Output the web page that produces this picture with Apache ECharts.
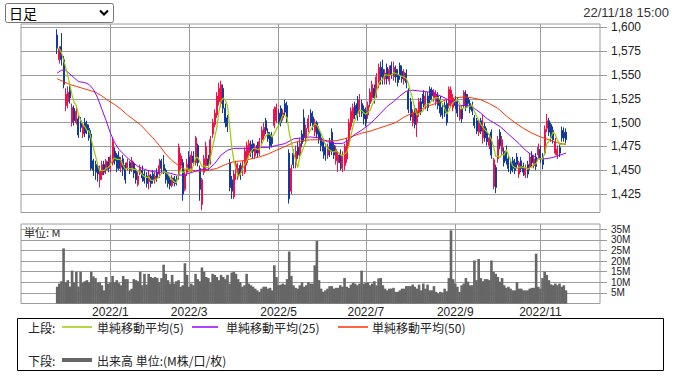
<!DOCTYPE html>
<html><head><meta charset="utf-8">
<script src="https://cdn.jsdelivr.net/npm/echarts@6/dist/echarts.min.js"></script>
<style>html,body{margin:0;padding:0;background:#fff}#c{width:674px;height:376px}</style>
</head><body><div id="c"></div>
<script>
// ---- calendar ----
const firstDay = '2021-11-26', lastDay = '2022-11-18';
const holidays = ['2021-12-31','2022-01-03','2022-01-10','2022-02-11','2022-02-23','2022-03-21','2022-04-29',
  '2022-05-03','2022-05-04','2022-05-05','2022-07-18','2022-08-11','2022-09-19','2022-09-23','2022-10-10','2022-11-03'];
const padBefore = 17, padAfter = 16;
const monthLabels = ['2022/1','2022/3','2022/5','2022/7','2022/9','2022/11'];
const priceTicks = [1425,1450,1475,1500,1525,1550,1575,1600];
const volTicks = [5,10,15,20,25,30,35];

// ---- daily prices (one per trading day) ----
const opens = [
1592,1566,1580,1566,1518,1522,1535,1500,1515,1500,
1504,1502,1488,1500,1498,1494,1488,1460,1456,1454,
1440,1445,1456,1450,1459,1452,1458,1470,1466,1464,
1453,1462,1455,1452,1458,1452,1457,1450,1435,1447,
1450,1446,1444,1438,1444,1446,1440,1448,1446,1460,
1456,1450,1444,1440,1434,1442,1440,1445,1455,1458,
1430,1448,1464,1452,1465,1458,1476,1452,1414,1448,
1455,1462,1460,1488,1498,1508,1522,1520,1536,1515,
1505,1458,1440,1422,1448,1444,1455,1448,1448,1458,
1468,1477,1478,1465,1476,1468,1482,1486,1502,1490,
1488,1486,1497,1502,1510,1515,1505,1520,1518,1468,
1428,1468,1456,1474,1466,1488,1505,1484,1494,1510,
1506,1490,1500,1492,1484,1480,1474,1466,1480,1490,
1476,1460,1458,1468,1452,1455,1462,1480,1496,1504,
1518,1520,1510,1520,1514,1512,1508,1520,1526,1536,
1530,1540,1558,1556,1546,1558,1544,1560,1548,1556,
1550,1560,1554,1544,1552,1533,1522,1500,1515,1500,
1510,1522,1530,1518,1528,1535,1534,1526,1522,1528,
1524,1516,1518,1520,1518,1520,1516,1524,1522,1504,
1514,1518,1530,1526,1520,1518,1505,1502,1490,1502,
1484,1496,1490,1476,1490,1433,1453,1462,1490,1470,
1470,1470,1462,1458,1460,1458,1464,1446,1460,1454,
1445,1456,1453,1466,1455,1464,1466,1472,1465,1468,
1494,1502,1498,1492,1468,1466,1474,1492,1490,1490];
const closes = [
1578,1577,1566,1540,1530,1532,1526,1516,1502,1512,
1487,1495,1496,1489,1492,1484,1452,1450,1448,1446,
1450,1456,1448,1460,1451,1464,1480,1460,1452,1452,
1460,1451,1440,1458,1450,1460,1447,1440,1444,1452,
1442,1439,1436,1445,1436,1440,1444,1442,1455,1452,
1450,1440,1436,1434,1442,1437,1436,1474,1465,1425,
1445,1456,1452,1466,1458,1484,1458,1430,1440,1462,
1475,1455,1482,1500,1510,1528,1536,1540,1515,1500,
1496,1432,1428,1446,1456,1452,1446,1455,1470,1476,
1478,1469,1470,1474,1468,1480,1492,1495,1492,1483,
1476,1478,1514,1516,1500,1500,1510,1511,1505,1420,
1452,1456,1470,1466,1478,1478,1485,1494,1504,1500,
1496,1500,1488,1482,1476,1470,1466,1474,1470,1470,
1466,1472,1466,1458,1465,1475,1480,1500,1512,1516,
1508,1506,1524,1510,1504,1500,1518,1532,1540,1526,
1548,1558,1548,1546,1552,1546,1556,1550,1558,1548,
1542,1549,1546,1553,1542,1514,1506,1510,1498,1512,
1522,1512,1520,1528,1516,1524,1528,1532,1530,1518,
1510,1508,1510,1500,1535,1534,1526,1518,1510,1514,
1504,1532,1516,1520,1514,1512,1497,1491,1500,1491,
1496,1484,1480,1484,1466,1461,1432,1482,1476,1482,
1458,1460,1452,1450,1452,1450,1456,1458,1452,1448,
1452,1446,1464,1458,1462,1454,1474,1462,1456,1493,
1502,1490,1484,1482,1480,1472,1468,1484,1484,1482];
const lows = [
1572,1562,1560,1536,1512,1515,1520,1496,1497,1498,
1484,1490,1484,1485,1488,1481,1450,1444,1440,1438,
1432,1440,1445,1446,1448,1448,1455,1456,1448,1450,
1448,1444,1436,1450,1446,1448,1442,1436,1433,1445,
1438,1436,1432,1430,1432,1436,1436,1438,1442,1448,
1446,1436,1432,1430,1432,1433,1434,1440,1450,1418,
1428,1444,1448,1448,1455,1455,1454,1418,1408,1445,
1450,1450,1456,1484,1495,1505,1518,1516,1510,1495,
1490,1428,1420,1420,1440,1440,1440,1444,1446,1455,
1464,1464,1462,1462,1464,1465,1478,1482,1488,1480,
1472,1474,1494,1500,1496,1496,1502,1508,1500,1415,
1425,1452,1452,1462,1462,1474,1480,1480,1490,1496,
1492,1486,1484,1478,1470,1462,1460,1462,1464,1466,
1462,1456,1448,1450,1448,1450,1458,1475,1492,1500,
1504,1502,1506,1506,1498,1496,1504,1516,1522,1520,
1526,1536,1540,1540,1540,1540,1540,1546,1544,1542,
1538,1545,1542,1540,1536,1510,1502,1496,1494,1485,
1506,1508,1516,1514,1512,1520,1524,1522,1518,1514,
1506,1504,1506,1497,1515,1516,1512,1514,1506,1502,
1500,1515,1512,1516,1510,1508,1494,1488,1486,1488,
1478,1480,1476,1472,1462,1430,1426,1458,1472,1466,
1454,1456,1448,1446,1448,1446,1452,1442,1448,1444,
1442,1442,1450,1454,1452,1450,1462,1458,1451,1466,
1490,1486,1480,1478,1466,1462,1464,1480,1480,1478];
const highs = [
1598,1580,1594,1570,1536,1538,1540,1520,1518,1516,
1508,1506,1500,1505,1502,1498,1492,1462,1460,1458,
1455,1460,1460,1462,1464,1466,1484,1474,1468,1470,
1464,1466,1458,1462,1460,1464,1459,1452,1448,1456,
1455,1450,1448,1450,1446,1450,1448,1452,1462,1462,
1466,1452,1446,1443,1445,1444,1444,1478,1468,1462,
1450,1462,1470,1470,1470,1486,1478,1455,1442,1466,
1480,1466,1486,1504,1514,1532,1542,1544,1540,1520,
1508,1462,1444,1450,1460,1458,1458,1460,1474,1480,
1482,1481,1482,1478,1480,1484,1496,1500,1505,1494,
1490,1490,1517,1520,1514,1518,1514,1524,1522,1472,
1456,1472,1476,1480,1484,1492,1514,1498,1508,1514,
1512,1504,1502,1496,1490,1484,1478,1478,1484,1494,
1480,1476,1470,1472,1470,1478,1484,1504,1516,1520,
1522,1528,1530,1524,1518,1516,1522,1536,1544,1540,
1552,1562,1564,1566,1556,1562,1560,1564,1564,1560,
1556,1563,1560,1556,1556,1536,1526,1514,1518,1515,
1526,1526,1534,1532,1532,1538,1537,1535,1534,1532,
1528,1520,1522,1524,1538,1538,1530,1528,1526,1518,
1518,1534,1534,1530,1524,1522,1508,1505,1503,1505,
1508,1500,1494,1488,1493,1463,1456,1486,1493,1486,
1474,1476,1466,1462,1464,1462,1468,1460,1464,1458,
1456,1460,1468,1470,1466,1468,1478,1476,1468,1497,
1509,1505,1500,1496,1484,1476,1478,1496,1495,1494];
// volume in millions of shares
const volumes = [
7.9,9.4,10.5,26,10,11,8,15.5,9.8,15,
8,15,9.8,10.5,11,10,15,12.8,12,9.8,
10,8.6,6.2,12.5,9.4,10,13,10,11,9.6,
8.6,13,11.5,11.5,6.2,7,11.5,11,10.5,15,
8.6,14,8.9,14,12.5,12,12.5,12,10,12,
18.3,14,11,9.4,13.5,9.4,10.5,11,7.9,8.6,
19,13.5,7.9,9.4,8.6,14,11.5,10.5,17,15,
12.5,12,10,14,13.5,12.5,11,13.5,12.5,11.5,
13.5,9.4,14.6,15,14,11.5,10,7.9,8.6,14,
9.4,8.6,7.9,7,6.2,5.5,7,7.9,7.9,7,
7.4,6.2,18,12.5,8.6,8.9,9.4,8.9,11.5,24.5,
13,8.6,7.4,7,8.6,10,7.9,8.6,10,9.4,
9.4,18,29.5,11,7,5.5,6.2,7,8.2,8.2,
7,7.4,7.4,8.6,7.9,12,7.9,7.4,8.9,9.8,
9.4,8.6,9.4,15.5,9.4,9.8,10,8.6,9.4,10.5,
8.6,11.8,12,8.6,7,6.2,7,7,7.4,5.5,
5.5,6.2,7,7,8.2,8.2,8.2,8.9,7.9,7,
8.9,6.2,9.4,7,8.9,6.2,6.2,8.2,5.5,4.7,
5.5,5.2,7,5.8,12,34.5,11.5,9.4,7.9,5.5,
8.6,9.4,12,10.3,8.6,8.6,20.3,11,21,12,
10.5,11.5,11.5,11,20.3,15,14,12.5,10.3,12,
8.6,7.4,7.9,7,6.2,6.2,10,7,7,6.2,
6.2,6.2,7,7.4,7.4,23.5,7.9,7,12,15,
13.5,11,9,8.6,9.4,8.6,9.4,7.9,8.6,6.2];
// moving averages: [trading-day index, value]
const ma25Read = [[0,1552],[2,1555],[4,1555],[6,1551],[8,1547],[10,1543],[13,1542],[15,1540],[17,1535],[19,1526],
 [21,1514],[23,1502],[25,1489],[27,1479],[29,1472],[32,1465],[35,1459],[38,1454],[41,1451],[44,1449],[47,1448],
 [50,1448],[53,1447],[56,1445],[59,1445],[62,1447],[65,1449],[68,1451],[71,1451],[74,1457],[77,1466],[80,1471],
 [83,1473],[87,1473],[91,1473],[95,1474],[99,1474],[103,1476],[107,1478],[111,1483],[115,1484],[119,1485],
 [123,1484],[127,1480],[131,1478],[134,1478],[137,1482],[140,1488],[143,1492],[146,1497],[149,1503],[152,1510],
 [155,1517],[158,1522],[161,1528],[164,1533],[167,1534],[171,1533],[175,1532],[179,1529],[183,1525],[186,1521],
 [189,1518],[193,1518],[196,1515],[199,1510],[202,1504],[205,1500],[208,1496],[211,1490],[214,1484],[217,1478],
 [220,1471],[223,1466],[226,1462],[229,1462],[232,1463],[235,1465],[239,1468]];
const ma50Read = [[0,1546],[3,1543],[6,1540],[9,1538],[12,1536],[15,1534],[18,1532],[21,1528],[24,1523],[27,1519],
 [30,1514],[33,1508],[36,1503],[39,1498],[42,1491],[45,1484],[48,1476],[51,1467],[54,1460],[57,1455],[60,1451],
 [63,1450],[67,1449],[71,1450],[75,1452],[79,1456],[83,1459],[87,1460],[91,1462],[95,1464],[99,1467],[103,1471],
 [107,1475],[111,1479],[115,1481],[119,1482],[123,1482],[127,1481],[131,1481],[135,1483],[139,1486],[143,1489],
 [147,1491],[151,1494],[155,1497],[159,1500],[163,1506],[167,1510],[171,1514],[175,1518],[179,1521],[183,1524],
 [187,1526],[191,1527],[195,1526],[199,1524],[203,1520],[207,1515],[211,1507],[215,1500],[219,1494],[223,1489],
 [227,1485],[231,1482],[235,1479],[239,1477]];

// ---- build ----
function tradingDays() {
  const out = [];
  const d = new Date(firstDay + 'T00:00:00Z'), end = new Date(lastDay + 'T00:00:00Z');
  while (d <= end) {
    const wd = d.getUTCDay(), s = d.toISOString().slice(0, 10);
    if (wd !== 0 && wd !== 6 && holidays.indexOf(s) < 0) out.push(s);
    d.setUTCDate(d.getUTCDate() + 1);
  }
  return out;
}
const days = tradingDays();
const N = padBefore + days.length + padAfter;
const cats = [];
for (let i = 0; i < N; i++) {
  const k = i - padBefore;
  cats.push(k >= 0 && k < days.length ? days[k] : 'pad' + i);
}
const labelAt = {};
monthLabels.forEach(function (lab) {
  const p = lab.split('/');
  const key = p[0] + '-' + (p[1].length < 2 ? '0' + p[1] : p[1]);
  const k = days.findIndex(function (d) { return d.slice(0, 7) === key; });
  if (k >= 0) labelAt[k + padBefore] = lab;
});
const isMonth = function (idx) { return labelAt[idx] !== undefined; };

const candleData = [], volData = [], ma5Data = [];
for (let i = 0; i < N; i++) {
  const k = i - padBefore;
  if (k < 0 || k >= days.length) {
    candleData.push(['-', '-', '-', '-']); volData.push('-'); ma5Data.push('-');
  } else {
    candleData.push([opens[k], closes[k], lows[k], highs[k]]);
    volData.push(volumes[k]);
    const s = Math.max(0, k - 4);
    let sum = 0; for (let j = s; j <= k; j++) sum += closes[j];
    ma5Data.push(+(sum / (k - s + 1)).toFixed(1));
  }
}
const toSeries = function (arr) { return arr.map(function (p) { return [p[0] + padBefore, p[1]]; }); };

const RED = '#f0104a', BLUE = '#103a9c', GRID = '#9c9c9c';
const LAT = "'Liberation Sans','Noto Sans CJK JP',sans-serif";
const JP = "'Noto Sans CJK JP','Liberation Sans',sans-serif";

const chart = echarts.init(document.getElementById('c'), null, { renderer: 'svg' });
chart.setOption({
  animation: false,
  backgroundColor: '#fff',
  textStyle: { fontFamily: LAT },
  grid: [
    { left: 21, top: 24, width: 579, height: 188.5, show: true, borderColor: GRID, borderWidth: 1 },
    { left: 21, top: 224, width: 579, height: 79.5, show: true, borderColor: GRID, borderWidth: 1 }
  ],
  xAxis: [
    { type: 'category', gridIndex: 0, data: cats, boundaryGap: false,
      axisLine: { show: false }, axisTick: { show: false }, axisLabel: { show: false },
      splitLine: { show: true, interval: isMonth, lineStyle: { color: GRID, width: 1 } } },
    { type: 'category', gridIndex: 1, data: cats, boundaryGap: false,
      axisLine: { show: false }, axisTick: { show: false },
      axisLabel: { show: true, interval: isMonth, formatter: function (v, idx) { return labelAt[idx] || ''; },
        color: '#222', fontSize: 12, lineHeight: 12, margin: 2, fontFamily: LAT },
      splitLine: { show: true, interval: isMonth, lineStyle: { color: GRID, width: 1 } } }
  ],
  yAxis: [
    { type: 'value', gridIndex: 0, position: 'right', min: 1405.7, max: 1603.5,
      axisLine: { show: false },
      axisTick: { show: true, length: 7, customValues: priceTicks, lineStyle: { color: GRID } },
      axisLabel: { customValues: priceTicks, formatter: function (v) { return v.toLocaleString('en-US'); },
        color: '#222', fontSize: 12, margin: 11, fontFamily: LAT },
      splitLine: { show: true, lineStyle: { color: GRID, width: 1 } } },
    { type: 'value', gridIndex: 1, position: 'right', min: 0, max: 37.5,
      axisLine: { show: false },
      axisTick: { show: true, length: 7, customValues: volTicks, lineStyle: { color: GRID } },
      axisLabel: { customValues: volTicks, formatter: function (v) { return v + 'M'; },
        color: '#222', fontSize: 10, lineHeight: 10, margin: 11, fontFamily: "'Liberation Sans Narrow','Liberation Sans',sans-serif" },
      splitLine: { show: true, lineStyle: { color: GRID, width: 1 } } }
  ],
  series: [
    { type: 'candlestick', name: '株価', xAxisIndex: 0, yAxisIndex: 0, data: candleData, barWidth: 1.5, silent: true,
      itemStyle: { color: RED, color0: BLUE, borderColor: RED, borderColor0: BLUE, borderWidth: 1 } },
    { type: 'line', name: '単純移動平均(50)', xAxisIndex: 0, yAxisIndex: 0, data: toSeries(ma50Read),
      showSymbol: false, symbol: 'none', silent: true, lineStyle: { color: '#ff3300', width: 1 } },
    { type: 'line', name: '単純移動平均(25)', xAxisIndex: 0, yAxisIndex: 0, data: toSeries(ma25Read),
      showSymbol: false, symbol: 'none', silent: true, lineStyle: { color: '#9900ff', width: 1 } },
    { type: 'line', name: '単純移動平均(5)', xAxisIndex: 0, yAxisIndex: 0, data: ma5Data,
      showSymbol: false, symbol: 'none', silent: true, lineStyle: { color: '#99cc00', width: 1.2 } },
    { type: 'bar', name: '出来高', xAxisIndex: 1, yAxisIndex: 1, data: volData, barWidth: 2.6,
      silent: true, itemStyle: { color: '#666666' } }
  ],
  graphic: [
    { type: 'rect', shape: { x: 5.5, y: 3.5, width: 108, height: 19, r: 2 }, style: { fill: '#fff', stroke: '#767676', lineWidth: 1 } },
    { type: 'text', x: 9, y: 13, style: { text: '日足', font: '14px ' + JP, fill: '#000', verticalAlign: 'middle' } },
    { type: 'polyline', shape: { points: [[100, 10.5], [104, 14.5], [108, 10.5]] }, style: { stroke: '#000', lineWidth: 2, fill: null } },
    { type: 'text', x: 669, y: 12, style: { text: '22/11/18 15:00', font: '13px ' + LAT, fill: '#333', align: 'right', verticalAlign: 'middle' } },
    { type: 'text', x: 24, y: 232, style: { text: '単位: M', font: '11px ' + JP, fill: '#222', verticalAlign: 'middle' } },
    { type: 'rect', shape: { x: 17.5, y: 318.5, width: 646, height: 52 }, style: { fill: 'none', stroke: '#000', lineWidth: 1 } },
    { type: 'text', x: 28, y: 327, style: { text: '上段:', font: '12px ' + JP, lineHeight: 13, fill: '#222', verticalAlign: 'middle' } },
    { type: 'line', shape: { x1: 62, y1: 327, x2: 92, y2: 327 }, style: { stroke: '#99cc00', lineWidth: 1.5 } },
    { type: 'text', x: 97, y: 327, style: { text: '単純移動平均(5)', font: '12px ' + JP, lineHeight: 13, fill: '#222', verticalAlign: 'middle' } },
    { type: 'line', shape: { x1: 192, y1: 327, x2: 218, y2: 327 }, style: { stroke: '#9900ff', lineWidth: 1.5 } },
    { type: 'text', x: 226, y: 327, style: { text: '単純移動平均(25)', font: '12px ' + JP, lineHeight: 13, fill: '#222', verticalAlign: 'middle' } },
    { type: 'line', shape: { x1: 338, y1: 327, x2: 368, y2: 327 }, style: { stroke: '#ff3300', lineWidth: 1.5 } },
    { type: 'text', x: 372, y: 327, style: { text: '単純移動平均(50)', font: '12px ' + JP, lineHeight: 13, fill: '#222', verticalAlign: 'middle' } },
    { type: 'text', x: 28, y: 360, style: { text: '下段:', font: '12px ' + JP, lineHeight: 13, fill: '#222', verticalAlign: 'middle' } },
    { type: 'line', shape: { x1: 62, y1: 360, x2: 92, y2: 360 }, style: { stroke: '#666666', lineWidth: 4 } },
    { type: 'text', x: 97, y: 360, style: { text: '出来高 単位:(M株/口/枚)', font: '12px ' + JP, lineHeight: 13, fill: '#222', verticalAlign: 'middle' } }
  ]
});
</script></body></html>
